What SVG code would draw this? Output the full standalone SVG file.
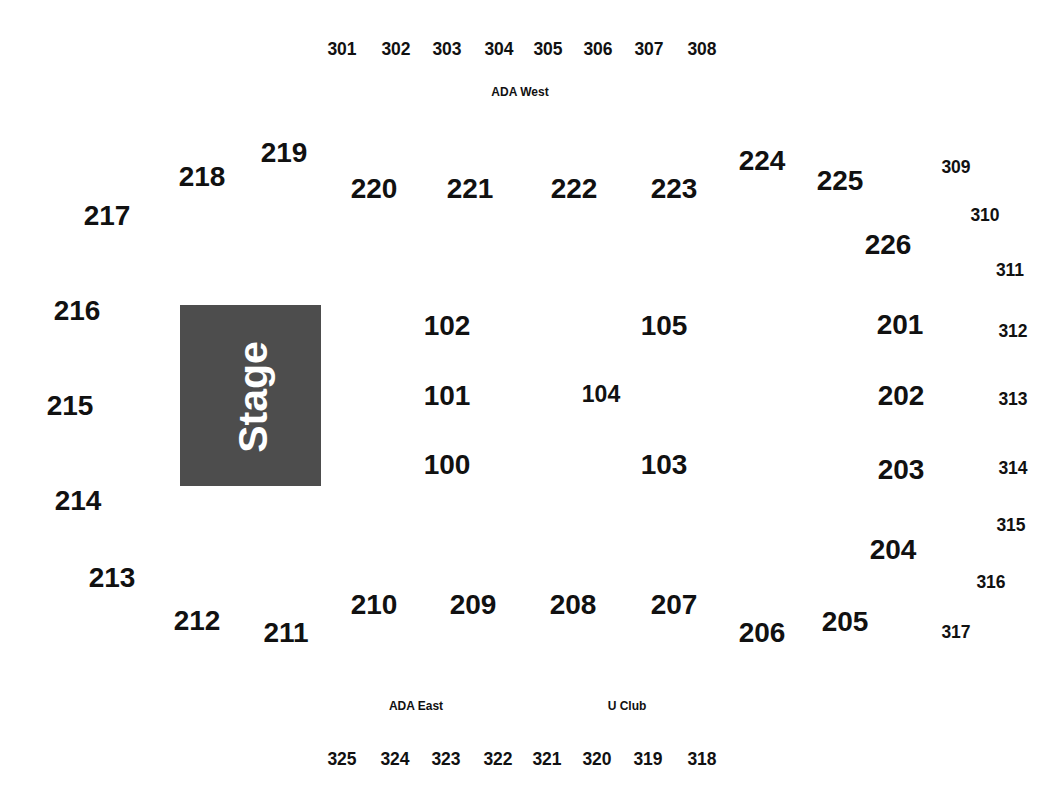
<svg xmlns="http://www.w3.org/2000/svg" width="1050" height="800" viewBox="0 0 1050 800">
<style>
text{font-family:"Liberation Sans",Arial,sans-serif;font-weight:bold;fill:#111;text-anchor:middle}
.l{font-size:28px}
.m{font-size:23px}
.s{font-size:17.5px}
.x{font-size:12px}
.st{font-size:41px;fill:#fff}
</style>
<rect width="1050" height="800" fill="#fff"/>
<g id="stage">
<rect x="180" y="305" width="141" height="181" fill="#4d4d4d"/>
<text class="st" transform="translate(267,397) rotate(-90)">Stage</text>
</g>
<g id="upper-west">
<text class="s" x="342" y="55">301</text>
<text class="s" x="396" y="55">302</text>
<text class="s" x="447" y="55">303</text>
<text class="s" x="499" y="55">304</text>
<text class="s" x="548" y="55">305</text>
<text class="s" x="598" y="55">306</text>
<text class="s" x="649" y="55">307</text>
<text class="s" x="702" y="55">308</text>
<text class="x" x="520" y="96">ADA West</text>
</g>
<g id="upper-east">
<text class="s" x="956" y="173">309</text>
<text class="s" x="985" y="221">310</text>
<text class="s" x="1010" y="276">311</text>
<text class="s" x="1013" y="337">312</text>
<text class="s" x="1013" y="405">313</text>
<text class="s" x="1013" y="474">314</text>
<text class="s" x="1011" y="531">315</text>
<text class="s" x="991" y="588">316</text>
<text class="s" x="956" y="638">317</text>
</g>
<g id="upper-south">
<text class="s" x="342" y="765">325</text>
<text class="s" x="395" y="765">324</text>
<text class="s" x="446" y="765">323</text>
<text class="s" x="498" y="765">322</text>
<text class="s" x="547" y="765">321</text>
<text class="s" x="597" y="765">320</text>
<text class="s" x="648" y="765">319</text>
<text class="s" x="702" y="765">318</text>
<text class="x" x="416" y="710">ADA East</text>
<text class="x" x="627" y="710">U Club</text>
</g>
<g id="lower-200s">
<text class="l" x="202" y="186">218</text>
<text class="l" x="284" y="162">219</text>
<text class="l" x="374" y="198">220</text>
<text class="l" x="470" y="198">221</text>
<text class="l" x="574" y="198">222</text>
<text class="l" x="674" y="198">223</text>
<text class="l" x="762" y="170">224</text>
<text class="l" x="840" y="190">225</text>
<text class="l" x="888" y="254">226</text>
<text class="l" x="107" y="225">217</text>
<text class="l" x="77" y="320">216</text>
<text class="l" x="70" y="415">215</text>
<text class="l" x="78" y="510">214</text>
<text class="l" x="112" y="587">213</text>
<text class="l" x="197" y="630">212</text>
<text class="l" x="286" y="642">211</text>
<text class="l" x="374" y="614">210</text>
<text class="l" x="473" y="614">209</text>
<text class="l" x="573" y="614">208</text>
<text class="l" x="674" y="614">207</text>
<text class="l" x="762" y="642">206</text>
<text class="l" x="845" y="631">205</text>
<text class="l" x="893" y="559">204</text>
<text class="l" x="900" y="334">201</text>
<text class="l" x="901" y="405">202</text>
<text class="l" x="901" y="479">203</text>
</g>
<g id="floor">
<text class="l" x="447" y="335">102</text>
<text class="l" x="447" y="405">101</text>
<text class="l" x="447" y="474">100</text>
<text class="l" x="664" y="335">105</text>
<text class="l" x="664" y="474">103</text>
<text class="m" x="601" y="402">104</text>
</g>
<g id="connectors"></g>
</svg>
